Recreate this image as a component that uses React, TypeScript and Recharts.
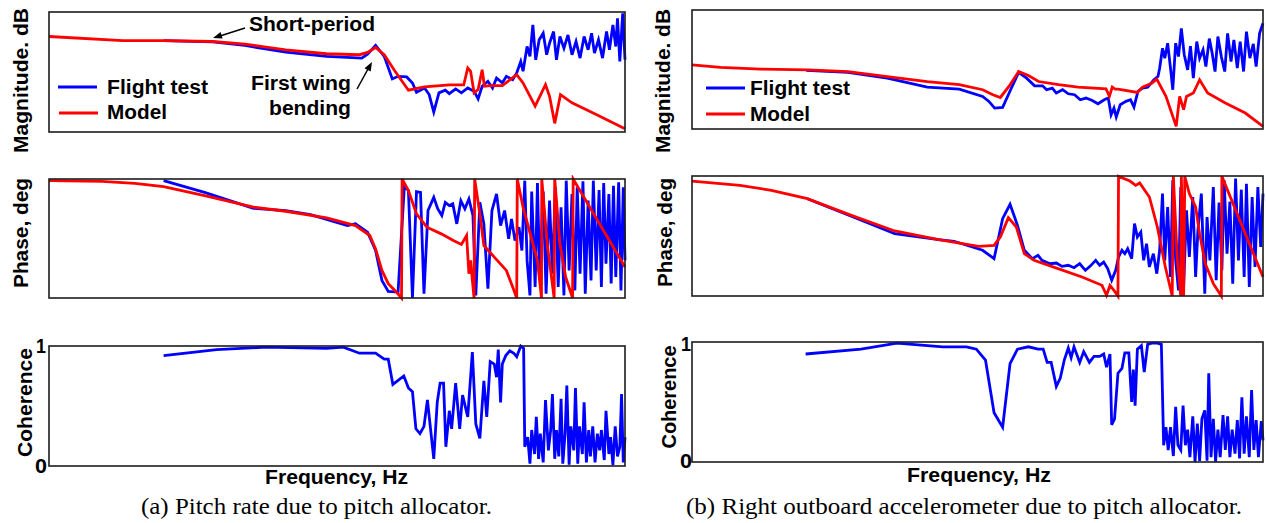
import { LineChart, Line, XAxis, YAxis } from "recharts"

// x: position along the (log) frequency axis, 0-100 ; y: relative value
const magA_model: [number, number][] = [
  [0, 79.6], [12.8, 76.2], [19.9, 76.2], [28.4, 75.4], [34.0, 73.2], [41.1, 68.5], [48.2, 65.2],
  [53.9, 64.4], [55.3, 66.3], [56.7, 70.4], [58.2, 64.4], [59.9, 51.9], [62.4, 34.8], [65.2, 37.6],
  [69.5, 39.2], [72.0, 39.2], [72.7, 53.3], [73.2, 50.6], [73.8, 32.6], [74.5, 35.4], [75.2, 51.9],
  [75.6, 38.1], [76.6, 38.7], [78.7, 38.7], [81.2, 47.8], [82.3, 40.9], [84.4, 21.5], [86.2, 39.5],
  [86.9, 29.8], [87.8, 7.2], [88.8, 31.2], [90.8, 24.3], [95.0, 14.6], [100, 2.8],
]

const magA_flight: [number, number][] = [
  [19.9, 76.2], [28.4, 75.1], [34.0, 72.1], [41.1, 66.6], [48.2, 63.0], [54.3, 61.6], [55.3, 64.9],
  [56.7, 72.1], [58.2, 63.0], [59.6, 44.2], [60.6, 46.4], [62.1, 45.9], [63.1, 40.9], [63.8, 33.1],
  [65.2, 36.7], [66.0, 31.2], [66.8, 16.6], [67.7, 32.6], [68.8, 34.8], [69.5, 32.0], [70.6, 35.9],
  [71.6, 32.6], [72.7, 36.7], [73.8, 34.0], [74.5, 27.6], [75.2, 38.1], [76.2, 42.3], [77.0, 36.7],
  [77.7, 45.0], [78.7, 40.9], [79.4, 46.4], [80.5, 43.6], [81.2, 49.2], [81.9, 58.8], [82.3, 50.6],
  [83.0, 71.3], [83.5, 63.0], [84.0, 89.2], [84.5, 60.2], [85.1, 76.8], [85.8, 82.3], [86.4, 64.4],
  [86.9, 74.0], [87.6, 83.7], [88.1, 60.2], [88.7, 79.6], [89.4, 69.9], [90.1, 80.9], [90.8, 64.4],
  [91.5, 75.4], [92.2, 61.6], [92.9, 79.6], [93.6, 68.5], [94.2, 82.3], [94.7, 65.7], [95.4, 76.8],
  [96.1, 61.6], [96.8, 83.7], [97.3, 68.5], [97.9, 89.2], [98.4, 71.3], [98.7, 94.8], [99.1, 58.8],
  [99.6, 98.9], [100, 60.2],
]

const phaseA_model: [number, number][] = [
  [0, 98.6], [9.2, 98.0], [14.9, 96.4], [19.9, 93.6], [27.0, 86.0], [35.5, 76.3], [41.1, 72.9],
  [48.2, 67.3], [53.2, 60.9], [55.7, 52.5], [56.7, 41.3], [57.8, 23.2], [58.9, 12.0], [60.3, 5.0],
  [61.2, 0], [61.3, 100], [62.4, 90.2], [63.8, 70.7], [65.6, 59.5], [68.1, 53.9], [70.2, 48.3],
  [71.6, 45.0], [72.5, 52.5], [72.9, 20.4], [73.2, 31.6], [73.5, 14.8], [73.8, 0], [73.9, 100],
  [74.8, 70.7], [75.5, 44.1], [77.3, 34.4], [79.4, 23.2], [80.5, 9.2], [81.2, 0], [81.3, 100],
  [82.3, 76.3], [83.7, 51.1], [84.8, 31.6], [85.5, 0], [85.55, 100], [86.5, 45.5], [87.7, 0],
  [87.8, 100], [88.7, 45.5], [89.7, 17.6], [90.9, 0], [91.0, 100], [100, 26.0],
]

const phaseA_flight: [number, number][] = [
  [19.9, 98.6], [27.0, 88.8], [35.5, 75.4], [41.1, 73.5], [45.4, 70.1], [51.8, 60.9], [53.2, 62.3],
  [55.3, 55.3], [56.7, 39.9], [57.8, 14.8], [58.9, 5.6], [60.6, 5.0], [61.7, 94.4], [62.4, 90.2],
  [63.1, 0], [63.8, 89.4], [64.5, 88.8], [65.1, 3.6], [65.8, 73.5], [66.8, 84.6], [67.5, 74.9],
  [68.2, 69.3], [68.8, 80.4], [69.5, 77.7], [70.1, 79.1], [70.8, 62.3], [71.5, 81.8], [72.2, 74.9],
  [72.9, 83.2], [73.6, 69.3], [74.1, 2.2], [74.8, 80.4], [75.5, 62.3], [76.2, 7.8], [76.9, 73.5],
  [77.7, 87.4], [78.4, 60.9], [79.1, 73.5], [79.8, 49.7], [80.3, 66.5], [80.9, 48.3], [81.6, 59.5],
  [82.1, 39.9], [82.6, 98.6], [83.0, 31.6], [83.5, 2.2], [83.8, 89.4], [84.4, 9.2], [84.8, 96.6],
  [85.2, 17.6], [85.8, 89.4], [86.3, 3.6], [86.9, 81.8], [87.4, 20.4], [87.9, 93.0], [88.4, 9.2],
  [88.9, 76.3], [89.4, 2.2], [89.8, 98.6], [90.3, 23.2], [90.8, 87.4], [91.3, 6.4], [91.7, 93.0],
  [92.2, 20.4], [92.7, 98.0], [93.1, 3.6], [93.6, 81.8], [94.1, 14.8], [94.5, 98.6], [95.0, 23.2],
  [95.5, 90.8], [95.9, 9.2], [96.3, 96.6], [96.7, 28.8], [97.2, 87.4], [97.6, 12.3], [98.0, 94.4],
  [98.4, 17.6], [98.9, 97.2], [99.3, 6.4], [99.7, 93.0], [100, 31.6],
]

const cohA: [number, number][] = [
  [19.9, 0.92], [29.1, 0.97], [37.6, 0.99], [48.2, 0.98], [51.1, 0.99], [53.9, 0.94], [56.7, 0.94],
  [58.2, 0.89], [58.9, 0.89], [59.7, 0.68], [61.6, 0.75], [62.4, 0.65], [63.1, 0.62], [63.7, 0.31],
  [64.4, 0.27], [65.1, 0.33], [65.7, 0.55], [66.8, 0.06], [67.4, 0.53], [67.9, 0.69], [68.5, 0.69],
  [68.9, 0.16], [69.5, 0.46], [69.9, 0.31], [70.6, 0.69], [71.3, 0.31], [71.8, 0.59], [72.7, 0.41],
  [73.5, 0.95], [74.1, 0.35], [74.8, 0.23], [75.5, 0.71], [76.0, 0.41], [76.6, 0.87], [77.3, 0.85],
  [77.7, 0.74], [78.0, 0.97], [78.4, 0.53], [78.7, 0.85], [79.3, 0.92], [80.0, 0.96], [80.7, 0.94],
  [81.2, 0.91], [81.9, 1.0], [82.4, 0.98], [82.6, 0.16], [83.1, 0.24], [83.5, 0.02], [83.8, 0.30],
  [84.3, 0.10], [84.6, 0.41], [85.0, 0.06], [85.3, 0.27], [85.8, 0.03], [86.2, 0.55], [86.7, 0.13],
  [87.1, 0.30], [87.4, 0.60], [87.8, 0.06], [88.1, 0.30], [88.5, 0.08], [88.9, 0.56], [89.2, 0.02],
  [89.6, 0.27], [89.9, 0.67], [90.3, 0.01], [90.6, 0.33], [91.1, 0.13], [91.4, 0.65], [91.8, 0.02],
  [92.1, 0.33], [92.6, 0.10], [92.9, 0.53], [93.3, 0.03], [93.7, 0.30], [94.0, 0.08], [94.4, 0.33],
  [94.8, 0.03], [95.2, 0.27], [95.6, 0.13], [95.9, 0.30], [96.4, 0.05], [96.7, 0.46], [97.2, 0.10],
  [97.5, 0.24], [97.9, 0.01], [98.3, 0.33], [98.7, 0.08], [99.1, 0.16], [99.4, 0.60], [99.7, 0.03],
  [100, 0.24],
]

const magB_model: [number, number][] = [
  [0, 53.9], [5.0, 51.7], [12.0, 50.3], [20.3, 49.7], [27.3, 48.3], [34.2, 44.1], [41.2, 39.9],
  [46.8, 37.2], [50.9, 33.0], [52.7, 28.8], [54.0, 26.5], [55.5, 35.8], [57.2, 48.3], [59.0, 44.7],
  [60.7, 39.9], [64.2, 37.2], [67.6, 35.2], [72.5, 33.8], [73.1, 27.4], [73.6, 35.2], [74.1, 33.5],
  [74.6, 33.5], [78.0, 30.7], [78.9, 35.2], [80.5, 38.5], [81.4, 41.9], [83.0, 27.4], [84.8, 2.2],
  [85.4, 27.4], [86.1, 16.2], [86.6, 27.4], [87.8, 30.2], [88.9, 41.3], [90.3, 30.2], [93.4, 21.8],
  [96.9, 13.4], [100, 2.2],
]

const magB_flight: [number, number][] = [
  [20.0, 49.2], [27.3, 47.5], [34.2, 42.7], [41.2, 35.2], [46.8, 33.5], [50.9, 27.4], [52.0, 23.2],
  [53.0, 17.6], [54.4, 18.2], [55.8, 33.0], [57.2, 47.5], [58.6, 42.7], [60.0, 36.3], [61.4, 36.3],
  [62.1, 33.0], [63.1, 34.4], [63.8, 30.2], [64.9, 33.0], [65.9, 29.6], [67.0, 28.8], [68.0, 24.6],
  [69.0, 26.0], [70.1, 24.0], [71.1, 21.2], [72.2, 24.6], [72.9, 26.0], [73.4, 12.0], [73.9, 17.6],
  [74.3, 10.1], [75.0, 20.4], [76.0, 23.2], [76.8, 24.6], [77.4, 18.4], [78.1, 31.6], [78.9, 34.4],
  [79.8, 35.2], [80.9, 41.3], [81.6, 44.1], [81.9, 51.1], [82.4, 67.9], [82.8, 59.5], [83.3, 72.1],
  [83.8, 51.1], [84.2, 33.0], [84.7, 72.1], [85.2, 60.9], [85.7, 84.6], [86.2, 62.6], [86.8, 49.7],
  [87.3, 69.6], [87.8, 42.7], [88.4, 73.5], [88.9, 59.5], [89.5, 66.5], [90.0, 52.5], [90.6, 76.0],
  [91.1, 63.7], [91.6, 48.3], [92.1, 77.7], [92.7, 60.9], [93.3, 48.3], [93.8, 80.4], [94.4, 56.7],
  [94.9, 74.9], [95.5, 51.1], [96.0, 73.5], [96.6, 48.3], [97.1, 81.8], [97.7, 59.5], [98.3, 71.5],
  [98.8, 52.5], [99.4, 80.4], [100, 88.8],
]

const phaseB_model: [number, number][] = [
  [0, 95.8], [8.4, 92.2], [13.9, 88.1], [20.2, 81.1], [27.9, 67.2], [35.5, 54.2], [43.2, 46.9],
  [50.2, 41.4], [52.9, 42.2], [54.0, 49.2], [55.4, 65.3], [56.8, 57.5], [58.2, 35.3], [59.9, 29.7],
  [64.1, 22.8], [68.3, 15.8], [71.8, 8.9], [72.6, 0.6], [73.2, 8.9], [73.9, 4.7], [74.6, 0],
  [74.7, 99.7], [76.7, 95.8], [77.7, 92.2], [78.4, 94.2], [80.1, 82.5], [81.5, 57.5], [82.9, 24.2],
  [84.1, 0], [84.3, 99.7], [85.0, 29.7], [85.6, 0], [85.7, 99.7], [86.1, 0], [86.3, 99.7],
  [87.1, 85.3], [88.2, 74.2], [88.9, 51.9], [89.9, 26.9], [91.3, 10.3], [92.7, 0], [92.8, 99.7],
  [100, 15.8],
]

const phaseB_flight: [number, number][] = [
  [20.2, 81.1], [27.9, 66.4], [35.5, 51.9], [43.2, 46.9], [45.9, 45.6], [50.9, 38.1], [52.9, 31.1],
  [54.4, 64.4], [55.7, 76.4], [57.0, 58.9], [58.2, 38.1], [59.6, 31.1], [60.6, 33.9], [61.3, 29.7],
  [62.7, 26.9], [63.8, 27.5], [64.8, 24.7], [65.9, 25.6], [66.9, 23.6], [67.9, 26.9], [68.9, 21.4],
  [69.7, 24.7], [70.7, 29.7], [71.4, 25.6], [72.1, 28.3], [72.8, 22.8], [73.5, 13.1], [74.2, 21.4],
  [74.7, 32.5], [75.3, 38.1], [75.8, 35.3], [76.3, 39.4], [77.0, 31.1], [77.5, 60.3], [78.0, 49.2],
  [78.6, 53.3], [79.1, 29.7], [79.6, 43.6], [80.1, 24.2], [80.8, 35.3], [81.4, 18.6], [81.9, 38.1],
  [82.4, 85.3], [82.8, 29.7], [83.3, 74.2], [83.8, 15.8], [84.2, 96.4], [84.7, 29.7], [85.2, 4.7],
  [85.6, 90.8], [86.1, 7.5], [86.6, 71.4], [87.1, 32.5], [87.7, 82.5], [88.2, 15.8], [88.6, 54.7],
  [89.2, 85.3], [89.8, 1.9], [90.2, 65.8], [90.7, 29.7], [91.3, 90.8], [91.8, 13.1], [92.3, 77.8],
  [92.8, 21.4], [93.2, 96.4], [93.7, 35.3], [94.2, 78.6], [94.7, 10.3], [95.2, 97.8], [95.7, 29.7],
  [96.2, 88.6], [96.7, 15.8], [97.1, 93.6], [97.6, 7.5], [98.1, 82.5], [98.6, 24.2], [99.1, 90.8],
  [99.6, 40.8], [100, 85.3],
]

const cohB: [number, number][] = [
  [19.9, 0.90], [29.6, 0.94], [35.9, 0.99], [43.9, 0.96], [48.1, 0.96], [49.8, 0.94], [51.4, 0.85],
  [52.9, 0.41], [54.4, 0.29], [55.7, 0.82], [57.0, 0.94], [58.9, 0.96], [60.6, 0.94], [61.5, 0.94],
  [62.2, 0.83], [62.9, 0.83], [63.8, 0.63], [64.5, 0.70], [65.2, 0.85], [65.9, 0.95], [66.4, 0.87],
  [66.9, 0.96], [67.9, 0.83], [68.6, 0.92], [69.6, 0.83], [70.4, 0.88], [71.4, 0.88], [72.1, 0.90],
  [72.6, 0.79], [73.2, 0.90], [73.5, 0.31], [74.0, 0.36], [74.6, 0.74], [75.3, 0.78], [75.8, 0.91],
  [76.5, 0.91], [77.0, 0.50], [77.3, 0.77], [77.6, 0.47], [78.0, 0.94], [78.7, 0.97], [79.2, 0.75],
  [79.8, 0.98], [80.5, 0.99], [81.5, 0.99], [82.2, 0.98], [82.6, 0.14], [83.0, 0.29], [83.4, 0.10],
  [83.8, 0.29], [84.3, 0.05], [84.7, 0.46], [85.1, 0.14], [85.6, 0.10], [86.0, 0.47], [86.4, 0.14],
  [86.8, 0.27], [87.2, 0.04], [87.7, 0.38], [88.1, 0.0], [88.5, 0.32], [88.9, 0.01], [89.3, 0.36],
  [89.8, 0.43], [90.2, 0.01], [90.5, 0.74], [90.9, 0.04], [91.3, 0.36], [91.7, 0.0], [92.1, 0.27],
  [92.5, 0.04], [93.0, 0.39], [93.4, 0.10], [93.8, 0.38], [94.2, 0.04], [94.6, 0.27], [95.1, 0.07],
  [95.5, 0.35], [95.9, 0.03], [96.3, 0.54], [96.7, 0.07], [97.1, 0.38], [97.6, 0.04], [98.0, 0.60],
  [98.4, 0.10], [98.8, 0.35], [99.2, 0.04], [99.7, 0.34], [100, 0.18],
]

const BLUE = "#0000ff"
const RED = "#ff0000"
const FRAME = "#1c1c1c"
const PAD = 4

const toRows = (pts: [number, number][]) => pts.map(([x, y]) => ({ x, y }))

type Series = { pts: [number, number][]; color: string }

// plot boxes: left, top, width, height
const boxes = {
  magA: [49, 12, 576, 120],
  phaseA: [49, 179, 576, 119],
  cohA: [49, 346, 576, 120],
  magB: [692, 10, 571, 119],
  phaseB: [692, 176, 571, 120],
  cohB: [692, 342, 571, 120],
}

function Panel({ box, yMax, series }: { box: number[]; yMax: number; series: Series[] }) {
  const [left, top, width, height] = box
  return (
    <div style={{ position: "absolute", left: left - PAD, top: top - PAD }}>
      <LineChart width={width + 2 * PAD} height={height + 2 * PAD}
        margin={{ top: PAD, right: PAD, bottom: PAD, left: PAD }}>
        <XAxis type="number" dataKey="x" domain={[0, 100]} hide />
        <YAxis type="number" domain={[0, yMax]} hide />
        {series.map((s, i) => (
          <Line key={i} data={toRows(s.pts)} dataKey="y" type="linear"
            stroke={s.color} strokeWidth={2.8} dot={false} isAnimationActive={false} />
        ))}
      </LineChart>
    </div>
  )
}

const SANS = "'Liberation Sans', Arial, sans-serif"
const SERIF = "'Liberation Serif', 'Times New Roman', serif"

function Label({ x, y, w, children, rotate, anchor = "start", size = 19.5 }: {
  x: number; y: number; w: number; children: string; rotate?: boolean; anchor?: string; size?: number
}) {
  return (
    <text x={x} y={y} fontFamily={SANS} fontWeight={700} fontSize={size} fill="#000"
      textAnchor={anchor} textLength={w} lengthAdjust="spacingAndGlyphs"
      transform={rotate ? `rotate(-90 ${x} ${y})` : undefined}>
      {children}
    </text>
  )
}

export default function App() {
  return (
    <div style={{ position: "absolute", left: 0, top: 0, width: 1266, height: 523, background: "#fff" }}>
      <Panel box={boxes.magA} yMax={100}
        series={[{ pts: magA_flight, color: BLUE }, { pts: magA_model, color: RED }]} />
      <Panel box={boxes.phaseA} yMax={100}
        series={[{ pts: phaseA_flight, color: BLUE }, { pts: phaseA_model, color: RED }]} />
      <Panel box={boxes.cohA} yMax={1} series={[{ pts: cohA, color: BLUE }]} />

      <Panel box={boxes.magB} yMax={100}
        series={[{ pts: magB_flight, color: BLUE }, { pts: magB_model, color: RED }]} />
      <Panel box={boxes.phaseB} yMax={100}
        series={[{ pts: phaseB_flight, color: BLUE }, { pts: phaseB_model, color: RED }]} />
      <Panel box={boxes.cohB} yMax={1} series={[{ pts: cohB, color: BLUE }]} />

      <svg width={1266} height={523} style={{ position: "absolute", left: 0, top: 0, pointerEvents: "none" }}>
        {/* panel frames */}
        {Object.values(boxes).map(([l, t, w, h], i) => (
          <rect key={i} x={l} y={t} width={w} height={h} fill="none" stroke={FRAME} strokeWidth={1.6} />
        ))}

        {/* y-axis titles */}
        <Label x={28} y={80.5} w={145} rotate anchor="middle" size={20.5}>Magnitude. dB</Label>
        <Label x={28} y={233} w={110} rotate anchor="middle" size={20.5}>Phase, deg</Label>
        <Label x={32} y={402.5} w={109} rotate anchor="middle" size={20.5}>Coherence</Label>
        <Label x={670} y={81} w={144} rotate anchor="middle" size={20.5}>Magnitude. dB</Label>
        <Label x={672} y={232.5} w={109} rotate anchor="middle" size={20.5}>Phase, deg</Label>
        <Label x={676} y={397} w={103} rotate anchor="middle" size={20.5}>Coherence</Label>

        {/* coherence ticks */}
        <Label x={46} y={353} w={10} anchor="end" size={21}>1</Label>
        <Label x={47} y={473} w={12} anchor="end" size={21}>0</Label>
        <Label x={691} y={351} w={10} anchor="end" size={21}>1</Label>
        <Label x={692} y={468} w={12} anchor="end" size={21}>0</Label>

        {/* x-axis titles */}
        <Label x={265} y={484} w={143} size={20.5}>Frequency, Hz</Label>
        <Label x={907} y={482} w={144} size={20.5}>Frequency, Hz</Label>

        {/* legends */}
        <line x1={58} y1={87} x2={97} y2={87} stroke={BLUE} strokeWidth={2.8} />
        <Label x={107} y={94} w={101}>Flight test</Label>
        <line x1={59} y1={113} x2={98} y2={113} stroke={RED} strokeWidth={2.8} />
        <Label x={107} y={119} w={60}>Model</Label>
        <line x1={706} y1={88} x2={745} y2={88} stroke={BLUE} strokeWidth={2.8} />
        <Label x={750} y={95} w={100}>Flight test</Label>
        <line x1={706} y1={114} x2={745} y2={114} stroke={RED} strokeWidth={2.8} />
        <Label x={750} y={120.5} w={60}>Model</Label>

        {/* annotations */}
        <Label x={249} y={31} w={126}>Short-period</Label>
        <line x1={245} y1={28} x2={220} y2={36} stroke="#000" strokeWidth={1.5} />
        <polygon points="213,38 220.6,32 222.6,38.6" fill="#000" />
        <Label x={251} y={90} w={100}>First wing</Label>
        <Label x={269} y={115} w={82}>bending</Label>
        <line x1={357} y1={89} x2={368} y2={69} stroke="#000" strokeWidth={1.5} />
        <polygon points="372,62 370.7,71.6 364.5,68.2" fill="#000" />

        {/* captions */}
        <text x={141} y={514} fontFamily={SERIF} fontSize={23.5} textLength={351} lengthAdjust="spacingAndGlyphs">
          (a) Pitch rate due to pitch allocator.
        </text>
        <text x={686} y={514} fontFamily={SERIF} fontSize={23.5} textLength={556} lengthAdjust="spacingAndGlyphs">
          (b) Right outboard accelerometer due to pitch allocator.
        </text>
      </svg>
    </div>
  )
}
